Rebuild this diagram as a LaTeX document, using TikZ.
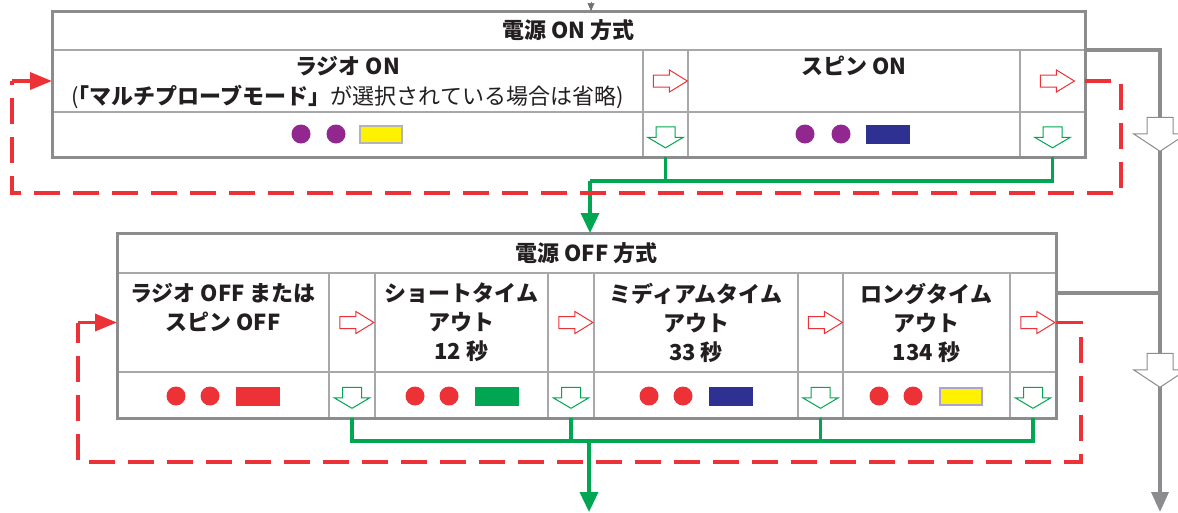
\documentclass[tikz,border=0pt]{standalone}
\usepackage{fontspec}
\newfontfamily\jpfont{Noto Sans CJK JP}
\usetikzlibrary{positioning}
\usetikzlibrary{arrows.meta}
\usetikzlibrary{shapes.arrows}
\usepackage{xcolor}

\definecolor{framegray}{RGB}{140,140,143}
\definecolor{cellgray}{RGB}{168,168,171}
\definecolor{inkgray}{RGB}{35,31,32}
\definecolor{ledred}{RGB}{237,50,55}
\definecolor{ledgreen}{RGB}{0,166,81}
\definecolor{ledpurple}{RGB}{146,39,143}
\definecolor{lednavy}{RGB}{46,49,146}
\definecolor{ledyellow}{RGB}{255,242,0}
\definecolor{lampgray}{RGB}{180,180,182}
\definecolor{lavender}{RGB}{170,162,212}

\tikzset{
  cell/.style={draw=cellgray, line width=1.5pt, inner sep=0pt, outer sep=0pt, anchor=north west,
    text=inkgray, font=\jpfont\bfseries\fontsize{22}{30}\selectfont},
  frame/.style={draw=framegray, line width=3pt},
  lbl/.style={text=inkgray, font=\jpfont\bfseries\fontsize{22}{#1}\selectfont, align=center, inner sep=0pt},
  dot/.style={circle, fill=#1, inner sep=0pt, minimum size=19pt},
  lamp/.style={fill=#1, draw=#1, line width=2pt, inner sep=0pt, minimum width=42pt, minimum height=17pt},
  redarr/.style={single arrow, draw=ledred, fill=white, line width=1pt, inner xsep=0pt, inner ysep=5.5pt,
    single arrow head extend=5pt, single arrow tip angle=63, minimum height=34pt},
  greenarr/.style={single arrow, draw=ledgreen, fill=white, line width=1pt, inner xsep=0pt, inner ysep=9pt,
    single arrow head extend=8pt, single arrow tip angle=119, minimum height=21pt, rotate=-90},
  grayarr/.style={single arrow, draw=framegray, fill=white, line width=1pt, inner xsep=0pt, inner ysep=12.5pt,
    single arrow head extend=13.5pt, single arrow tip angle=113, minimum height=34pt, rotate=-90},
  gline/.style={draw=ledgreen, line width=3.5pt},
  rloop/.style={draw=ledred, line width=3.5pt, dash pattern=on 26pt off 13pt},
  rtip/.style={draw=ledred, line width=3.5pt, -{Triangle[width=17pt,length=22pt]}},
  trunk/.style={draw=framegray, line width=3.5pt}
}

\begin{document}
\begin{tikzpicture}[x=1pt, y=-1pt]
	\useasboundingbox (0,0) rectangle (1178,512);
	\clip (0,0) rectangle (1178,512);

	% power-on table
	\node [cell, minimum width=1033pt, minimum height=39pt] (onhead) at (52,11) {電源 ON 方式};
	\node [cell, minimum width=591pt, minimum height=62pt] (onT1) at (52,50) {};
	\node [cell, minimum width=591pt, minimum height=45pt] (onB1) at (52,112) {};
	\node [cell, minimum width=45pt, minimum height=62pt] (onarT1) at (643,50) {};
	\node [cell, minimum width=45pt, minimum height=45pt] (onarB1) at (643,112) {};
	\node [cell, minimum width=332pt, minimum height=62pt] (onT2) at (688,50) {};
	\node [cell, minimum width=332pt, minimum height=45pt] (onB2) at (688,112) {};
	\node [cell, minimum width=65pt, minimum height=62pt] (onarT2) at (1020,50) {};
	\node [cell, minimum width=65pt, minimum height=45pt] (onarB2) at (1020,112) {};
	\draw [frame] (onhead.north west) rectangle (onarB2.south east);

	\node [lbl=30, below=6pt of onT1.north] (on1txt) {ラジオ ON\\{\mdseries (}｢マルチプローブモード」{\mdseries が選択されている場合は省略)}};
	\node [lbl=30, below=6pt of onT2.north] (on2txt) {スピン ON};

	\node [dot=ledpurple] (ond1a) at (301,134) {};
	\node [dot=ledpurple] (ond1b) at (336,134) {};
	\node [lamp=ledyellow, draw=lampgray] (onl1) at (381,134) {};
	\node [dot=ledpurple] (ond2a) at (805,134) {};
	\node [dot=ledpurple] (ond2b) at (841,134) {};
	\node [lamp=lednavy] (onl2) at (888,134) {};

	\node [redarr] (onr1) at (onarT1) {};
	\node [greenarr] (ong1) at (onarB1) {};
	\node [redarr] (onr2) at (onarT2) {};
	\node [greenarr] (ong2) at (onarB2) {};

	% power-off table
	\node [cell, minimum width=939pt, minimum height=40pt] (offhead) at (117,233) {電源 OFF 方式};
	\foreach \i/\x/\w in {1/117/212, 2/375/173, 3/594/204, 4/843/167} {
		\node [cell, minimum width=\w pt, minimum height=99pt] (offT\i) at (\x,273) {};
		\node [cell, minimum width=\w pt, minimum height=46pt] (offB\i) at (\x,372) {};
	}
	\foreach \i/\x/\w in {1/329/46, 2/548/46, 3/798/45, 4/1010/46} {
		\node [cell, minimum width=\w pt, minimum height=99pt] (offarT\i) at (\x,273) {};
		\node [cell, minimum width=\w pt, minimum height=46pt] (offarB\i) at (\x,372) {};
		\node [redarr] (offr\i) at (offarT\i) {};
		\node [greenarr] (offg\i) at (offarB\i) {};
	}
	\draw [frame] (offhead.north west) rectangle (offarB4.south east);

	\node [lbl=29, below=10pt of offT1.north] (off1txt) {ラジオ OFF または\\スピン OFF};
	\node [lbl=29, below=10pt of offT2.north] (off2txt) {ショートタイム\\アウト\\12 秒};
	\node [lbl=29, below=10pt of offT3.north] (off3txt) {ミディアムタイム\\アウト\\33 秒};
	\node [lbl=29, below=10pt of offT4.north] (off4txt) {ロングタイム\\アウト\\134 秒};

	\foreach \i/\x/\c/\e in {1/176/ledred/ledred, 2/415/ledgreen/ledgreen, 3/649/lednavy/lednavy, 4/879/ledyellow/lavender} {
		\node [dot=ledred] (offd\i a) at (\x,396) {};
		\node [dot=ledred] (offd\i b) at (\x+34,396) {};
		\node [lamp=\c, draw=\e] (offl\i) at (\x+82,396) {};
	}

	% green paths
	\coordinate (onsplit) at (590,181);
	\draw [gline] (onsplit) -| (onarB1.south);
	\draw [gline] (onarB1.south |- onsplit) -| (onarB2.south);
	\draw [gline, -{Triangle[width=18pt,length=20pt]}] (onsplit) -- (onsplit |- offhead.north);

	\coordinate (offsplit) at (589,441);
	\coordinate (offout) at (589,512);
	\draw [gline] (offarB1.south) |- (offsplit) -| (offarB4.south);
	\draw [gline] (offarB2.south) -- (offarB2.south |- offsplit);
	\draw [gline] (offarB3.south) -- (offarB3.south |- offsplit);
	\draw [gline, -{Triangle[width=18pt,length=20pt]}] (offsplit) -- (offout);

	% red loops
	\coordinate (onloopR) at (1121,193);
	\coordinate (onloopL) at (12,193);
	\draw [rloop] (onarT2.east) -| (onloopR) -- (onloopL) -- (onloopL |- onT1.west);
	\draw [rtip] (onloopL |- onT1.west) -- (onT1.west);
	\coordinate (offloopR) at (1081,462);
	\coordinate (offloopL) at (78,462);
	\draw [rloop] (offarT4.east) -| (offloopR) -- (offloopL) -- (offloopL |- offT1.west);
	\draw [rtip] (offloopL |- offT1.west) -- (offT1.west);

	% gray trunk
	\coordinate (feedin) at (591,2);
	\draw [draw=framegray!80!black, line width=0.5pt, -{Triangle[width=7pt,length=8pt]}] (feedin) -- (feedin |- onhead.north);
	\coordinate (trunktop) at (1160,50);
	\coordinate (trunkjoin) at (1160,293);
	\coordinate (trunkend) at (1160,512);
	\draw [trunk, -{Triangle[width=17pt,length=20pt]}] (onarT2.north east) -- (trunktop) -- (trunkend);
	\draw [trunk] (offarT4.east |- trunkjoin) -- (trunkjoin);
	\node [grayarr] (trunkarr1) at (1160,130) {};
	\node [grayarr] (trunkarr2) at (1160,366) {};
\end{tikzpicture}
\end{document}
